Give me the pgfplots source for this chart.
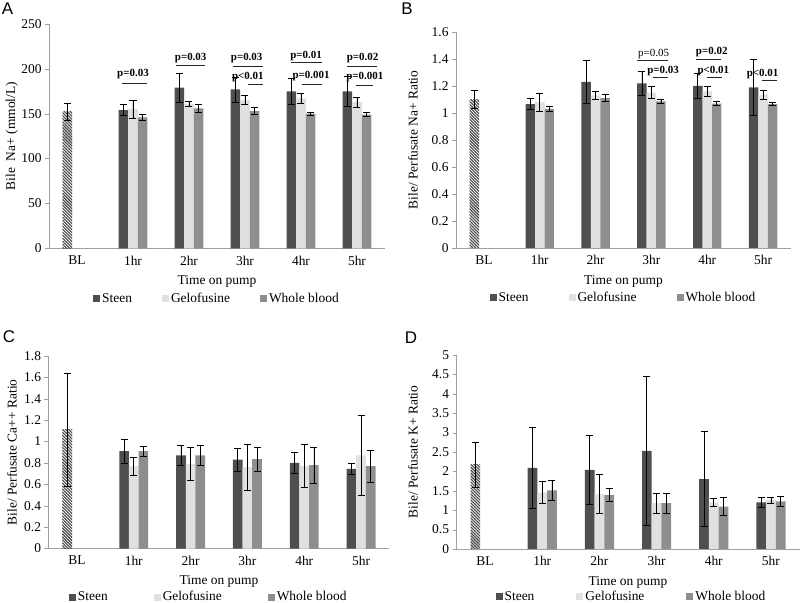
\documentclass[border=0pt]{standalone}
\usepackage{pgfplots}
\pgfplotsset{compat=1.18}
\usetikzlibrary{patterns}
\usepackage{fontspec}
\setmainfont{Liberation Serif}
\newfontfamily\panelfont{Liberation Sans}

\definecolor{steen}{HTML}{4F4F4F}
\definecolor{gelo}{HTML}{E0E0E0}
\definecolor{wblood}{HTML}{8E8E8E}
\definecolor{axgray}{HTML}{A0A0A0}

% dense "\" hatch for the baseline bar
\pgfdeclarepatternformonly{blhatch}{\pgfqpoint{-1pt}{-1pt}}{\pgfqpoint{4pt}{4pt}}{\pgfqpoint{3pt}{3pt}}{%
  \pgfsetlinewidth{1.1pt}
  \pgfpathmoveto{\pgfqpoint{-0.2pt}{3.2pt}}
  \pgfpathlineto{\pgfqpoint{3.2pt}{-0.2pt}}
  \pgfusepath{stroke}}

\newcommand{\txt}{\fontsize{13.5}{14}\selectfont}
\newcommand{\pv}{\fontsize{11}{11}\selectfont\bfseries}

% Bars are plotted at their own x (category -0.17, 0, +0.17) so the error bars sit on them.
\pgfplotsset{
  panel/.style={
    scale only axis,
    anchor=south west,
    axis lines=left,
    axis line style={-, draw=axgray},
    xmin=-0.5, xmax=5.5, ymin=0,
    xtick={0,...,5},
    xticklabels={BL,1hr,2hr,3hr,4hr,5hr},
    x tick style={draw=none},
    y tick style={draw=axgray},
    tick align=outside,
    major tick length=4bp,
    tick label style={font=\txt},
    /pgf/number format/assume math mode=true,
    xlabel={Time on pump},
    every axis x label/.style={at={(axis description cs:0.5,0)}, anchor=center, yshift=-33bp, font=\txt},
    every axis y label/.style={at={(axis description cs:0,0.5)}, anchor=center, rotate=90, font=\txt},
    legend columns=3,
    legend style={draw=none, fill=none, font=\txt, anchor=center},
    legend image code/.code={\fill[##1] (0bp,-3.5bp) rectangle (7bp,3.5bp);},
  },
  errs/.style={
    error bars/y dir=both, error bars/y explicit,
    error bars/error bar style={black, line width=0.8bp},
    error bars/error mark options={black, rotate=90, mark size=3.5bp, line width=0.8bp},
  },
  bS/.style={ybar, bar width=0.17, bar shift=0, fill=steen, draw=none, errs},
  bG/.style={ybar, bar width=0.17, bar shift=0, fill=gelo, draw=none, errs},
  bW/.style={ybar, bar width=0.17, bar shift=0, fill=wblood, draw=none, errs},
  bB/.style={ybar, bar width=0.17, bar shift=0, pattern=blhatch, pattern color=steen, draw=none, errs, forget plot},
}

\begin{document}
\begin{tikzpicture}

\node[font=\panelfont\fontsize{17}{17}\selectfont] at (7.5bp,594.5bp) {A};
\node[font=\panelfont\fontsize{17}{17}\selectfont] at (407bp,594.5bp) {B};
\node[font=\panelfont\fontsize{17}{17}\selectfont] at (9bp,266bp) {C};
\node[font=\panelfont\fontsize{17}{17}\selectfont] at (411bp,265bp) {D};

% ---------- A: bile Na+
\begin{axis}[panel, at={(49bp,354.7bp)}, width=336bp, height=224.3bp,
  ymax=250, ytick={0,50,100,150,200,250},
  ylabel={Bile\ \ Na+ (mmol/L)},
  every axis y label/.append style={yshift=37bp},
  legend style={at={(0.5,-0.223)}, /tikz/every even column/.append style={column sep=28bp}}]
\addplot[bB] coordinates {(-0.17,152) +- (0,10)};
\addplot[bS] coordinates {(0.83,154) +- (0,6) (1.83,179) +- (0,16) (2.83,177) +- (0,14) (3.83,175) +- (0,14.5) (4.83,175) +- (0,17)};
\addplot[bG] coordinates {(1,155) +- (0,10) (2,161) +- (0,3) (3,165) +- (0,5) (4,167) +- (0,5.5) (5,163) +- (0,5.5)};
\addplot[bW] coordinates {(1.17,146) +- (0,3) (2.17,156) +- (0,4) (3.17,153) +- (0,3.5) (4.17,150) +- (0,2) (5.17,149) +- (0,2)};
\legend{Steen,Gelofusine,Whole blood}
\node[font=\pv] at (axis cs:1.0,194) {p=0.03};
\draw[line width=0.9bp, black!85] (axis cs:0.8,184) -- (axis cs:1.25,184);
\node[font=\pv] at (axis cs:2.03,212) {p=0.03};
\draw[line width=0.9bp, black!85] (axis cs:1.77,204) -- (axis cs:2.29,204);
\node[font=\pv] at (axis cs:3.03,212) {p=0.03};
\draw[line width=0.9bp, black!85] (axis cs:2.79,203) -- (axis cs:3.32,203);
\node[font=\pv] at (axis cs:3.05,191) {p<0.01};
\draw[line width=0.9bp, black!85] (axis cs:3.05,183) -- (axis cs:3.32,183);
\node[font=\pv] at (axis cs:4.09,214) {p=0.01};
\draw[line width=0.9bp, black!85] (axis cs:3.82,207) -- (axis cs:4.37,207);
\node[font=\pv] at (axis cs:4.18,192) {p=0.001};
\draw[line width=0.9bp, black!85] (axis cs:4.01,183) -- (axis cs:4.37,183);
\node[font=\pv] at (axis cs:5.1,212) {p=0.02};
\draw[line width=0.9bp, black!85] (axis cs:4.82,203) -- (axis cs:5.35,203);
\node[font=\pv] at (axis cs:5.14,191) {p=0.001};
\draw[line width=0.9bp, black!85] (axis cs:4.99,182) -- (axis cs:5.28,182);
\end{axis}

% ---------- B: bile/perfusate Na+
\begin{axis}[panel, at={(456bp,355bp)}, width=335bp, height=216bp,
  ymax=1.6, ytick={0,0.2,0.4,0.6,0.8,1,1.2,1.4,1.6},
  ylabel={Bile/ Perfusate Na+ Ratio},
  every axis y label/.append style={yshift=43bp},
  legend style={at={(0.5,-0.231)}, /tikz/every even column/.append style={column sep=38bp}}]
\addplot[bB] coordinates {(-0.17,1.10) +- (0,0.065)};
\addplot[bS] coordinates {(0.83,1.065) +- (0,0.04) (1.83,1.23) +- (0,0.16) (2.83,1.22) +- (0,0.09) (3.83,1.20) +- (0,0.09) (4.83,1.19) +- (0,0.21)};
\addplot[bG] coordinates {(1,1.08) +- (0,0.065) (2,1.13) +- (0,0.03) (3,1.15) +- (0,0.045) (4,1.16) +- (0,0.04) (5,1.135) +- (0,0.035)};
\addplot[bW] coordinates {(1.17,1.03) +- (0,0.02) (2.17,1.11) +- (0,0.025) (3.17,1.086) +- (0,0.012) (4.17,1.07) +- (0,0.015) (5.17,1.065) +- (0,0.01)};
\legend{Steen,Gelofusine,Whole blood}
\node[font=\fontsize{11}{11}\selectfont] at (axis cs:3.04,1.44) {p=0.05};
\draw[line width=0.9bp, black!85] (axis cs:2.75,1.39) -- (axis cs:3.29,1.39);
\node[font=\pv] at (axis cs:3.21,1.31) {p=0.03};
\draw[line width=0.9bp, black!85] (axis cs:3.02,1.26) -- (axis cs:3.29,1.26);
\node[font=\pv] at (axis cs:4.08,1.45) {p=0.02};
\draw[line width=0.9bp, black!85] (axis cs:3.8,1.40) -- (axis cs:4.24,1.40);
\node[font=\pv] at (axis cs:4.11,1.31) {p<0.01};
\draw[line width=0.9bp, black!85] (axis cs:4.0,1.26) -- (axis cs:4.27,1.26);
\node[font=\pv] at (axis cs:4.99,1.29) {p<0.01};
\draw[line width=0.9bp, black!85] (axis cs:4.98,1.24) -- (axis cs:5.25,1.24);
\end{axis}

% ---------- C: bile/perfusate Ca++
\begin{axis}[panel, at={(48.5bp,54.5bp)}, width=341bp, height=192.5bp,
  ymax=1.8, ytick={0,0.2,0.4,0.6,0.8,1,1.2,1.4,1.6,1.8},
  ylabel={Bile/ Perfusate Ca++ Ratio},
  every axis y label/.append style={yshift=36.5bp},
  legend style={at={(0.47,-0.252)}, /tikz/every even column/.append style={column sep=44bp}}]
\addplot[bB] coordinates {(-0.17,1.11) +- (0,0.53)};
\addplot[bS] coordinates {(0.83,0.91) +- (0,0.11) (1.83,0.87) +- (0,0.09) (2.83,0.83) +- (0,0.105) (3.83,0.80) +- (0,0.10) (4.83,0.745) +- (0,0.05)};
\addplot[bG] coordinates {(1,0.77) +- (0,0.085) (2,0.79) +- (0,0.155) (3,0.76) +- (0,0.215) (4,0.77) +- (0,0.20) (5,0.87) +- (0,0.37)};
\addplot[bW] coordinates {(1.17,0.91) +- (0,0.045) (2.17,0.87) +- (0,0.09) (3.17,0.835) +- (0,0.11) (4.17,0.78) +- (0,0.17) (5.17,0.77) +- (0,0.15)};
\legend{Steen,Gelofusine,Whole blood}
\end{axis}

% ---------- D: bile/perfusate K+
\begin{axis}[panel, at={(456.5bp,54bp)}, width=343bp, height=194bp,
  ymax=5, ytick={0,0.5,1,1.5,2,2.5,3,3.5,4,4.5,5},
  ylabel={Bile/ Perfusate K+ Ratio},
  every axis y label/.append style={yshift=43.5bp},
  legend style={at={(0.51,-0.247)}, /tikz/every even column/.append style={column sep=40bp}}]
\addplot[bB] coordinates {(-0.17,2.17) +- (0,0.58)};
\addplot[bS] coordinates {(0.83,2.09) +- (0,1.04) (1.83,2.04) +- (0,0.90) (2.83,2.53) +- (0,1.92) (3.83,1.80) +- (0,1.23) (4.83,1.20) +- (0,0.13)};
\addplot[bG] coordinates {(1,1.45) +- (0,0.28) (2,1.42) +- (0,0.50) (3,1.18) +- (0,0.26) (4,1.20) +- (0,0.10) (5,1.26) +- (0,0.08)};
\addplot[bW] coordinates {(1.17,1.51) +- (0,0.27) (2.17,1.39) +- (0,0.16) (3.17,1.18) +- (0,0.25) (4.17,1.09) +- (0,0.23) (5.17,1.23) +- (0,0.13)};
\legend{Steen,Gelofusine,Whole blood}
\end{axis}

\pgfresetboundingbox
\path[use as bounding box] (0bp,0bp) rectangle (800bp,603bp);
\end{tikzpicture}
\end{document}
